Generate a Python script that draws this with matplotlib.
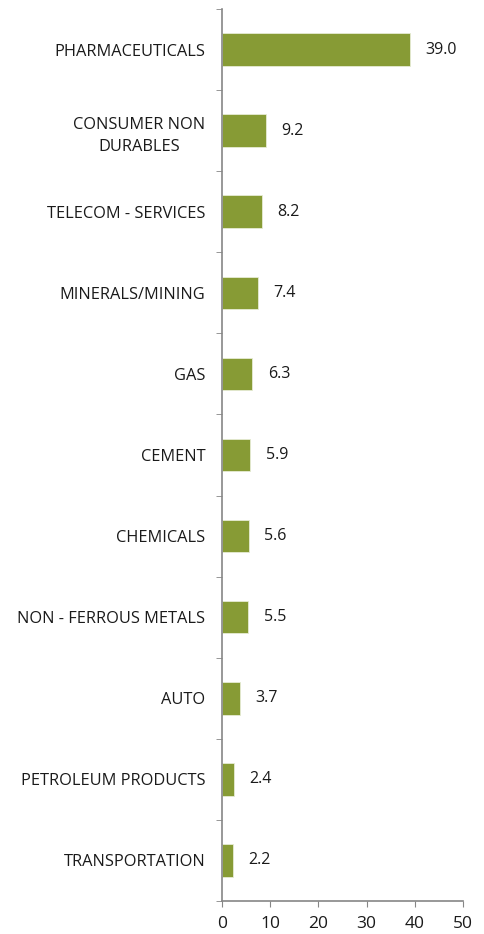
import matplotlib.pyplot as plt
import numpy as np

# sector names, top to bottom, and their weights (%)
sectors = ['PHARMACEUTICALS', 'CONSUMER NON\nDURABLES', 'TELECOM - SERVICES',
           'MINERALS/MINING', 'GAS', 'CEMENT', 'CHEMICALS', 'NON - FERROUS METALS',
           'AUTO', 'PETROLEUM PRODUCTS', 'TRANSPORTATION']
weights = [39.0, 9.2, 8.2, 7.4, 6.3, 5.9, 5.6, 5.5, 3.7, 2.4, 2.2]
x_ticks = [0, 10, 20, 30, 40, 50]

plt.rcParams['font.family'] = ['Open Sans', 'DejaVu Sans']

fig = plt.figure(figsize=(4.85, 9.34), dpi=100)
ax = fig.add_axes([0.4577, 0.0353, 0.4969, 0.9551])

n = len(sectors)
ypos = np.arange(n)[::-1]
bar_color = '#879b35'
axis_color = '#868686'
text_color = '#1a1a1a'

ax.barh(ypos, weights, height=0.4, color=bar_color, edgecolor='#e6ecd4', linewidth=0.6)

for y, w in zip(ypos, weights):
    ax.annotate(f'{w:.1f}', xy=(w, y), xytext=(11, 0), textcoords='offset points',
                ha='left', va='center', fontsize=11.5, color=text_color)

ax.set_xlim(0, 50)
ax.set_ylim(-0.5, n - 0.5)
ax.set_xticks(x_ticks)
ax.tick_params(axis='x', length=4, color=axis_color, labelsize=12.5,
               labelcolor=text_color, pad=7)

# category labels centred on bars, tick marks on the boundaries between them
ax.set_yticks(ypos)
ax.set_yticklabels(sectors, fontsize=11.75, color=text_color, ha='right',
                   multialignment='center', linespacing=1.55)
ax.tick_params(axis='y', which='major', length=0, pad=12)
ax.set_yticks(np.arange(n + 1) - 0.5, minor=True)
ax.tick_params(axis='y', which='minor', length=4, color=axis_color)

for s in ['top', 'right']:
    ax.spines[s].set_visible(False)
for s in ['left', 'bottom']:
    ax.spines[s].set_color(axis_color)
    ax.spines[s].set_linewidth(1.2)

fig.savefig('out.png', dpi=100)
